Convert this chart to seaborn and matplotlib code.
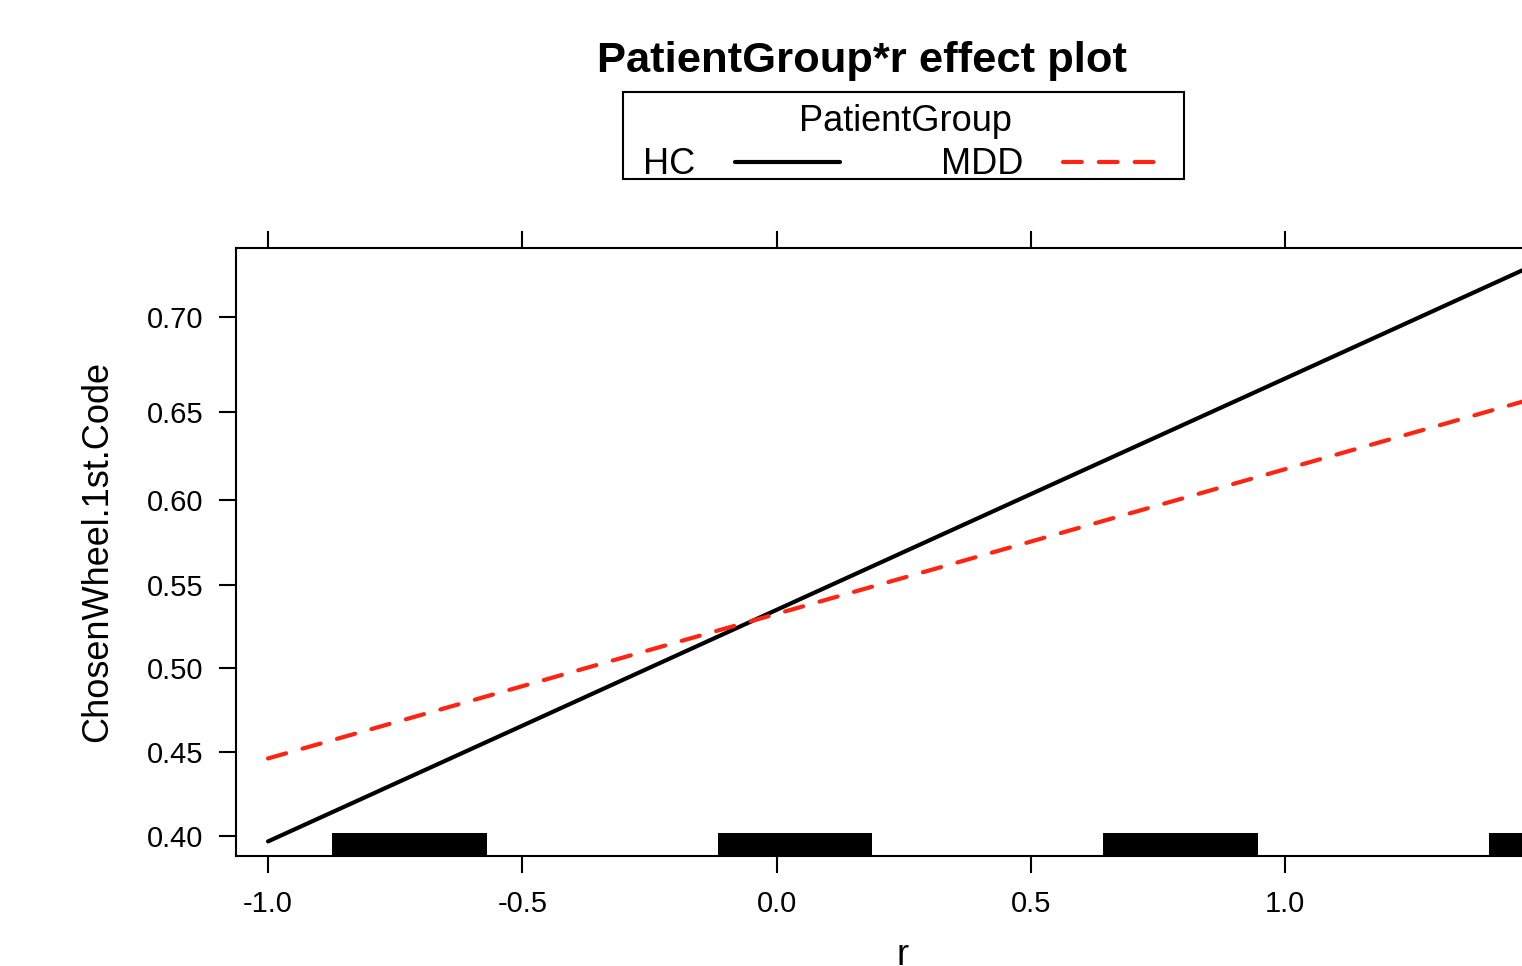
import numpy as np
import pandas as pd
import matplotlib
matplotlib.use("Agg")
import matplotlib.pyplot as plt
from matplotlib.lines import Line2D
from matplotlib.patches import Rectangle
from matplotlib.ticker import FixedLocator, NullLocator, FormatStrFormatter
import seaborn as sns

# --- Data ---
r_values = [-1.0, -0.5, 0.0, 0.5, 1.0, 1.5]
hc_prob = [0.3971, 0.4655, 0.5353, 0.6037, 0.6682, 0.7271]
mdd_prob = [0.4459, 0.4893, 0.5329, 0.5760, 0.6180, 0.6583]
groups = ["HC", "MDD"]

# rug of observed r values (dense ticks form blocks)
rug_start = [-0.874, -0.115, 0.642, 1.401]
rug_end = [-0.569, 0.188, 0.947, 1.706]

x_ticks = [-1.0, -0.5, 0.0, 0.5, 1.0]
y_ticks = [0.40, 0.45, 0.50, 0.55, 0.60, 0.65, 0.70]

df = pd.DataFrame({
    "r": r_values * 2,
    "prob": hc_prob + mdd_prob,
    "PatientGroup": ["HC"] * len(r_values) + ["MDD"] * len(r_values),
})

# --- Style ---
sns.set_style("ticks")
plt.rcParams["font.family"] = ["Liberation Sans", "DejaVu Sans"]
plt.rcParams["text.color"] = "black"

RED = "#ff2412"
LW = 3.0
DASH = (4.5, 4.1)

fig = plt.figure(figsize=(15.22, 9.66), dpi=100)
ax = fig.add_axes([236 / 1522, 1 - 856 / 966, 1334 / 1522, 608 / 966])

sns.lineplot(data=df, x="r", y="prob", hue="PatientGroup", style="PatientGroup",
             palette={"HC": "black", "MDD": RED},
             dashes={"HC": "", "MDD": DASH},
             linewidth=LW, legend=False, ax=ax)
for line in ax.get_lines():
    line.set_solid_capstyle("round")
    line.set_dash_capstyle("round")

# rug blocks at the bottom
widths = [e - s for s, e in zip(rug_start, rug_end)]
ax.bar(rug_start, 0.038, width=widths, bottom=0, align="edge", color="black",
       linewidth=0, transform=ax.get_xaxis_transform(), clip_on=True)

ax.set_yscale("logit")
ax.set_xlim(-1.063, 1.560)
ax.set_ylim(0.3887, 0.7340)
ax.yaxis.set_major_locator(FixedLocator(y_ticks))
ax.yaxis.set_minor_locator(NullLocator())
ax.yaxis.set_major_formatter(FormatStrFormatter("%.2f"))
ax.xaxis.set_major_locator(FixedLocator(x_ticks))
ax.xaxis.set_minor_locator(NullLocator())
ax.xaxis.set_major_formatter(FormatStrFormatter("%.1f"))

for sp in ax.spines.values():
    sp.set_linewidth(1.5)
    sp.set_color("black")
ax.tick_params(axis="both", which="major", direction="out", length=12.5, width=1.5,
               labelsize=21, colors="black")
ax.tick_params(axis="y", pad=11)
ax.tick_params(axis="x", pad=12, top=True, labeltop=False)

ax.set_xlabel("r", fontsize=26, color="black")
ax.set_ylabel("ChosenWheel.1st.Code", fontsize=26, color="black")
ax.xaxis.set_label_coords(0.5, -0.135)
ax.yaxis.set_label_coords(-0.0905, 0.5)

fig.text(862 / 1522, 1 - 61 / 966, "PatientGroup*r effect plot", ha="center", va="center",
         fontsize=31.3, fontweight="bold", color="black")

# key: frameless legend plus a plain box around it
handles = [Line2D([], [], color="black", lw=LW, solid_capstyle="round"),
           Line2D([], [], color=RED, lw=LW, dashes=DASH, dash_capstyle="round")]
leg = fig.legend(handles, groups, ncol=2, title="PatientGroup", markerfirst=False,
                 loc="center", bbox_to_anchor=(905.5 / 1522, 1 - 143 / 966),
                 fontsize=26, title_fontsize=26, frameon=False,
                 handlelength=2.9, handletextpad=1.1,
                 columnspacing=2.8, borderpad=0.3, labelspacing=0.2, handleheight=0.5)
for t in leg.get_texts():
    t.set_color("black")
leg.get_title().set_color("black")
fig.patches.append(Rectangle((623 / 1522, 1 - 179 / 966), 561 / 1522, 87 / 966,
                             transform=fig.transFigure, fill=False,
                             edgecolor="black", linewidth=1.5))

fig.savefig("out.png", dpi=100)
